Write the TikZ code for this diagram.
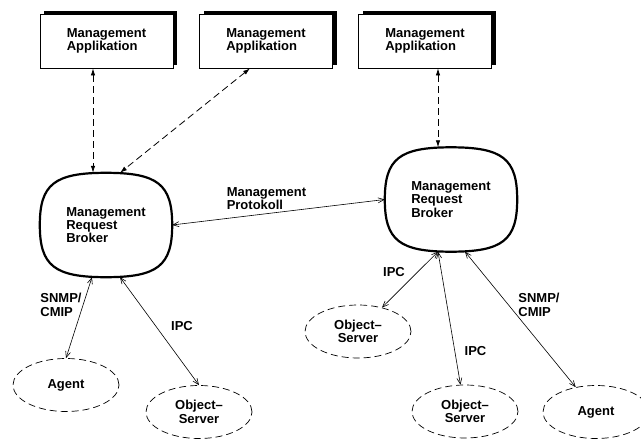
\documentclass[tikz,border=0pt]{standalone}
\usepackage{fontspec}
\setmainfont{Liberation Sans}
\usetikzlibrary{arrows.meta,calc,shapes.geometric,shadows}
\newcommand\mrbblob[1]{%
  \draw[blobline] (#1.north)
    .. controls ($(#1.north)!0.78!(#1.north east)$) and ($(#1.east)!0.78!(#1.north east)$) .. (#1.east)
    .. controls ($(#1.east)!0.78!(#1.south east)$) and ($(#1.south)!0.78!(#1.south east)$) .. (#1.south)
    .. controls ($(#1.south)!0.78!(#1.south west)$) and ($(#1.west)!0.78!(#1.south west)$) .. (#1.west)
    .. controls ($(#1.west)!0.78!(#1.north west)$) and ($(#1.north)!0.78!(#1.north west)$) .. (#1.north) -- cycle;}
\begin{document}
\begin{tikzpicture}[x=1pt,y=-1pt,
  every node/.style={font=\fontsize{13}{13.3}\selectfont\bfseries},
  appbox/.style={rectangle, draw, line width=0.8pt, fill=white,
    minimum width=133pt, minimum height=54pt, inner sep=0pt, align=left,
    drop shadow={shadow xshift=4pt, shadow yshift=3pt, fill=black, opacity=1}},
  mrb/.style={rectangle, draw=none, minimum width=132pt, minimum height=104pt,
    inner sep=0pt, align=left},
  blobline/.style={line width=2.2pt},
  proc/.style={ellipse, draw, line width=0.7pt, dash pattern=on 7pt off 4pt,
    minimum width=106pt, minimum height=53pt, inner sep=0pt, align=center},
  lbl/.style={inner sep=0pt, align=left},
  dasharrow/.style={line width=0.8pt, dash pattern=on 7pt off 4pt,
    {Latex[length=7pt,width=4.5pt]}-{Latex[length=7pt,width=4.5pt]}},
  solidarrow/.style={line width=0.6pt,
    {Straight Barb[length=6pt,width=5pt]}-{Straight Barb[length=6pt,width=5pt]}}
]
\useasboundingbox (0,0) rectangle (641,442);

% application boxes
\node[appbox] (app1) at (106.5,41) {Management\\Applikation};
\node[appbox] (app2) at (266,41) {Management\\Applikation};
\node[appbox] (app3) at (425,41) {Management\\Applikation};

% request brokers
\node[mrb] (mrbL) at (106,225) {Management\\Request\\Broker};
\node[mrb] (mrbR) at (451,199.5) {Management\\Request\\Broker};
\mrbblob{mrbL}
\mrbblob{mrbR}

% agents and object servers
\node[proc] (agentL) at (66,385) {Agent};
\node[proc] (objL) at (199,412) {Object--\\Server};
\node[proc] (objR1) at (358,331.5) {Object--\\Server};
\node[proc] (objR2) at (465,411.5) {Object--\\Server};
\node[proc] (agentR) at (596,412) {Agent};

% dashed connectors
\draw[dasharrow] ([xshift=-13.5pt]app1.south) -- ([xshift=-13pt]mrbL.north);
\draw[dasharrow] ([xshift=-16pt]app2.south) -- ([xshift=14pt]mrbL.north);
\draw[dasharrow] ([xshift=13pt]app3.south) -- ([xshift=-13pt]mrbR.north);

% solid connectors
\draw[solidarrow] (mrbL.east) -- (mrbR.west);
\draw[solidarrow] ([xshift=-14pt]mrbL.south) -- (agentL.north);
\draw[solidarrow] ([xshift=14pt]mrbL.south) -- (objL.north);
\draw[solidarrow] ([xshift=-13pt]mrbR.south) -- (objR1);
\draw[solidarrow] ([xshift=-13pt]mrbR.south) -- (objR2);
\draw[solidarrow] ([xshift=14pt]mrbR.south) -- (agentR);

% labels
\node[lbl] (lproto) at (266.5,198.5) {Management\\Protokoll};
\node[lbl] (lsnmpL) at (61,305) {SNMP/\\CMIP};
\node[lbl] (lipcL) at (182,326) {IPC};
\node[lbl] (lipcR1) at (394,272.5) {IPC};
\node[lbl] (lipcR2) at (475.5,351.5) {IPC};
\node[lbl] (lsnmpR) at (539,305) {SNMP/\\CMIP};
\end{tikzpicture}
\end{document}
